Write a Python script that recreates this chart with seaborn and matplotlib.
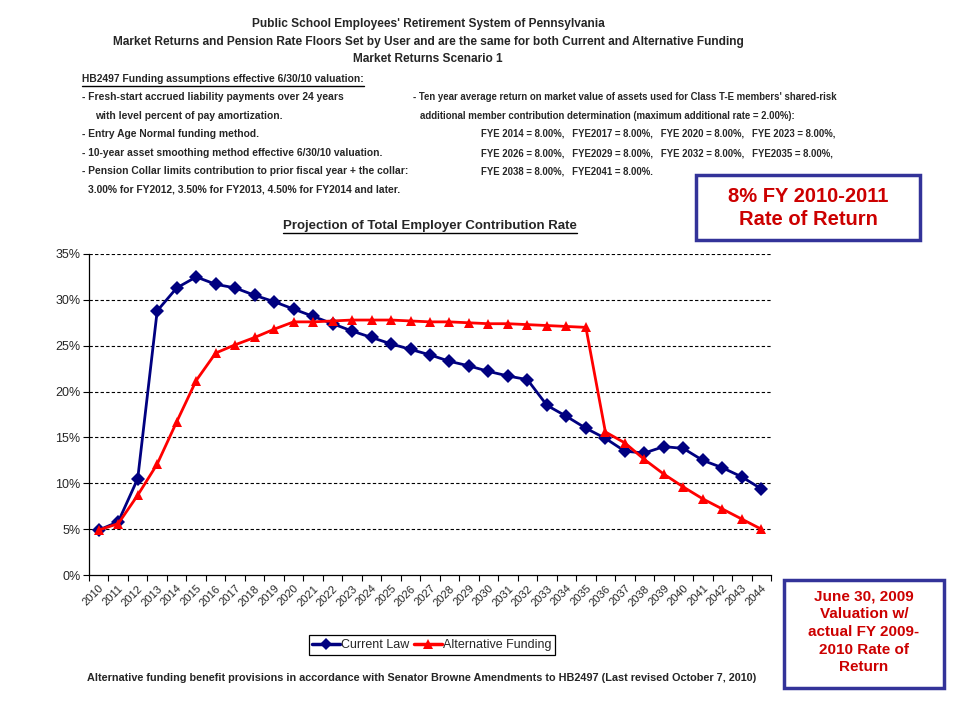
import matplotlib
matplotlib.use("Agg")
import matplotlib.pyplot as plt
import seaborn as sns
import pandas as pd
from matplotlib.lines import Line2D
from matplotlib.patches import Rectangle

years = [str(y) for y in range(2010, 2045)]
current_law = [4.9, 5.8, 10.5, 28.8, 31.3, 32.5, 31.7, 31.3, 30.5, 29.8,
               29.0, 28.2, 27.4, 26.6, 25.9, 25.2, 24.6, 24.0, 23.3, 22.8,
               22.2, 21.7, 21.3, 18.5, 17.3, 16.0, 14.9, 13.5, 13.3, 14.0,
               13.8, 12.5, 11.7, 10.7, 9.4]
alternative = [4.9, 5.6, 8.7, 12.1, 16.7, 21.2, 24.2, 25.1, 25.9, 26.8,
               27.6, 27.6, 27.7, 27.8, 27.8, 27.8, 27.7, 27.6, 27.6, 27.5,
               27.4, 27.4, 27.3, 27.2, 27.1, 27.0, 15.6, 14.4, 12.6, 11.0,
               9.6, 8.3, 7.2, 6.1, 5.0]
series_names = ["Current Law", "Alternative Funding"]
yticks = [0, 5, 10, 15, 20, 25, 30, 35]

df = pd.DataFrame({
    "idx": list(range(len(years))) * 2,
    "rate": current_law + alternative,
    "series": [series_names[0]] * len(years) + [series_names[1]] * len(years),
})

sns.set_theme(style="white")
plt.rcParams["font.family"] = ["Liberation Sans", "DejaVu Sans"]

fig = plt.figure(figsize=(9.6, 7.2), dpi=100)
fig.patch.set_facecolor("white")
ax = fig.add_axes([89 / 960, 1 - 575 / 720, (771 - 89) / 960, (575 - 254) / 720])

sns.lineplot(data=df, x="idx", y="rate", hue="series", style="series",
             palette={series_names[0]: "#000080", series_names[1]: "#FF0000"},
             markers={series_names[0]: "D", series_names[1]: "^"},
             dashes=False, linewidth=2, markersize=7, markeredgewidth=0,
             ax=ax, legend=False)

ax.set_xlim(-0.5, len(years) - 0.5)
ax.set_ylim(0, 35)
ax.set_yticks(yticks)
ax.set_yticklabels([f"{t}%" for t in yticks], fontsize=9)
ax.set_xticks(range(len(years)))
ax.set_xticklabels(years, rotation=45, ha="right", rotation_mode="anchor", fontsize=8)
ax.set_xticks([i - 0.5 for i in range(len(years) + 1)], minor=True)
ax.tick_params(axis="x", which="major", length=0, pad=6)
ax.tick_params(axis="x", which="minor", length=4, width=0.8, color="black", direction="out", bottom=True)
ax.tick_params(axis="y", which="major", length=4, width=0.8, color="black", direction="out", left=True, pad=2)
ax.set_xlabel("")
ax.set_ylabel("")
for s in ["top", "right"]:
    ax.spines[s].set_visible(False)
for s in ["left", "bottom"]:
    ax.spines[s].set_color("black")
    ax.spines[s].set_linewidth(0.9)
for t in yticks[1:]:
    ax.axhline(t, color="black", linestyle=(0, (3, 2)), linewidth=0.8, zorder=0)

handles = [
    Line2D([], [], color="#000080", marker="D", lw=2.5, markersize=6, markeredgewidth=0),
    Line2D([], [], color="#FF0000", marker="^", lw=2.5, markersize=7, markeredgewidth=0),
]
leg = fig.legend(handles, series_names, loc="center", bbox_to_anchor=(432 / 960, 1 - 645 / 720),
                 ncol=2, frameon=True, fancybox=False, fontsize=9, handlelength=2.2,
                 handletextpad=0.1, columnspacing=0.4, borderpad=0.3, edgecolor="black",
                 framealpha=1)
leg.get_frame().set_linewidth(0.9)

# Header titles
for ypx, txt in [(24, "Public School Employees' Retirement System of Pennsylvania"),
                 (42, "Market Returns and Pension Rate Floors Set by User and are the same for both Current and Alternative Funding"),
                 (59, "Market Returns Scenario 1")]:
    fig.text(428 / 960, 1 - ypx / 720, txt, ha="center", va="center", fontsize=8.6,
             fontweight="bold")

left_lines = [
    (82, 79, "HB2497 Funding assumptions effective 6/30/10 valuation:"),
    (82, 97, "- Fresh-start accrued liability payments over 24 years"),
    (95, 116, "with level percent of pay amortization."),
    (82, 134, "- Entry Age Normal funding method."),
    (82, 153, "- 10-year asset smoothing method effective 6/30/10 valuation."),
    (82, 171, "- Pension Collar limits contribution to prior fiscal year + the collar:"),
    (88, 190, "3.00% for FY2012, 3.50% for FY2013, 4.50% for FY2014 and later."),
]
right_lines = [
    (413, 97, "- Ten year average return on market value of assets used for Class T-E members' shared-risk"),
    (420, 116, "additional member contribution determination (maximum additional rate = 2.00%):"),
    (481, 134, "FYE 2014 = 8.00%,   FYE2017 = 8.00%,   FYE 2020 = 8.00%,   FYE 2023 = 8.00%,"),
    (481, 153, "FYE 2026 = 8.00%,   FYE2029 = 8.00%,   FYE 2032 = 8.00%,   FYE2035 = 8.00%,"),
    (481, 171, "FYE 2038 = 8.00%,   FYE2041 = 8.00%."),
]
texts = []
for xpx, ypx, txt in left_lines:
    texts.append(fig.text(xpx / 960, 1 - ypx / 720, txt, ha="left", va="center", fontsize=7.4,
                          fontweight="bold"))
for xpx, ypx, txt in right_lines:
    texts.append(fig.text(xpx / 960, 1 - ypx / 720, txt, ha="left", va="center", fontsize=6.95,
                          fontweight="bold"))

chart_title = fig.text(430 / 960, 1 - 226 / 720, "Projection of Total Employer Contribution Rate",
                       ha="center", va="center", fontsize=9.5, fontweight="bold")
footer = fig.text(422 / 960, 1 - 678 / 720,
                  "Alternative funding benefit provisions in accordance with Senator Browne Amendments to HB2497 (Last revised October 7, 2010)",
                  ha="center", va="center", fontsize=7.85, fontweight="bold")

# Boxes
def box(x0, y0, x1, y1):
    fig.add_artist(Rectangle((x0 / 960, 1 - y1 / 720), (x1 - x0) / 960, (y1 - y0) / 720,
                             transform=fig.transFigure, facecolor="white",
                             edgecolor="#333399", linewidth=2.5))

box(696, 175, 920, 240)
fig.text(808 / 960, 1 - 208 / 720, "8% FY 2010-2011\nRate of Return", ha="center", va="center",
         fontsize=14.5, fontweight="bold", color="#CC0000", linespacing=1.3)
box(784, 580, 944, 688)
fig.text(864 / 960, 1 - 632 / 720, "June 30, 2009\nValuation w/\nactual FY 2009-\n2010 Rate of\nReturn",
         ha="center", va="center", fontsize=11, fontweight="bold", color="#CC0000", linespacing=1.33)

# Underlines
fig.canvas.draw()
r = fig.canvas.get_renderer()
def underline(t, off=1.5):
    bb = t.get_window_extent(r)
    y = bb.y0 - off
    fig.add_artist(Line2D([bb.x0 / 960, bb.x1 / 960], [y / 720, y / 720],
                          transform=fig.transFigure, color="black", linewidth=1))
underline(chart_title)
underline(texts[0])

fig.savefig("out.png", dpi=100, facecolor="white")
